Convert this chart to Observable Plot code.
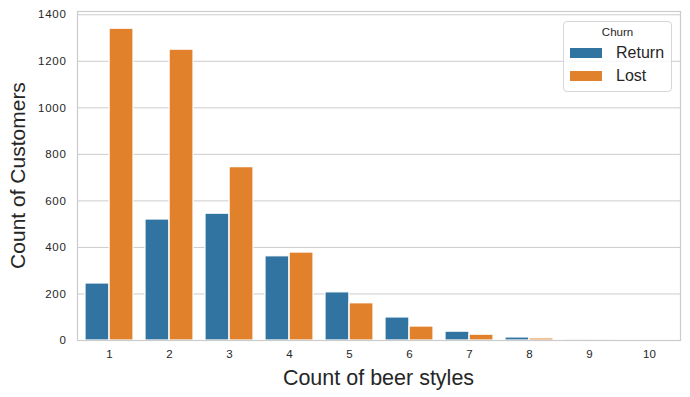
<!DOCTYPE html>
<html>
<head>
<meta charset="utf-8">
<script src="https://cdn.jsdelivr.net/npm/d3@7"></script>
<script src="https://cdn.jsdelivr.net/npm/@observablehq/plot@0.6"></script>
<style>
  body { margin: 0; background: #fff; font-family: "Liberation Sans", Arial, sans-serif; }
  #wrap { position: relative; width: 690px; height: 397px; }
  #legend {
    position: absolute; left: 563px; top: 21px; width: 109px; height: 71px;
    border: 1px solid #d6d6d6; border-radius: 4px; background: rgba(255,255,255,0.8);
    box-sizing: border-box; color: #262626;
  }
  #legend .title { position: absolute; left: 0; width: 100%; top: 4px; text-align: center; font-size: 11.5px; }
  #legend .sw { position: absolute; left: 6px; width: 32px; height: 10px; }
  #legend .lab { position: absolute; left: 52px; font-size: 16px; line-height: 16px; }
</style>
</head>
<body>
<div id="wrap"></div>
<script>
const beerStyles = [1, 2, 3, 4, 5, 6, 7, 8, 9, 10];
const churnGroups = ["Return", "Lost"];
const returnCounts = [245, 520, 545, 362, 207, 99, 38, 13, 1, 0];
const lostCounts = [1340, 1250, 745, 378, 160, 60, 25, 9, 1, 0];
const yTicks = [0, 200, 400, 600, 800, 1000, 1200, 1400];
const colors = ["#3274a1", "#e1812c"];

const returnData = beerStyles.map((s, i) => ({style: s, churn: "Return", count: returnCounts[i]}));
const lostData = beerStyles.map((s, i) => ({style: s, churn: "Lost", count: lostCounts[i]}));

const W = 690, H = 397, mL = 77, mR = 10, mT = 11, mB = 57;
const half = (W - mL - mR) / beerStyles.length * 0.8 / 2;

const chart = Plot.plot({
  width: W, height: H,
  marginLeft: mL, marginRight: mR, marginTop: mT, marginBottom: mB,
  style: {fontSize: "11.5px", fontFamily: "Liberation Sans, Arial, sans-serif", color: "#262626", background: "white"},
  x: {type: "band", domain: beerStyles, paddingInner: 0.2, paddingOuter: 0.1, tickSize: 0, tickPadding: 9, label: null},
  y: {domain: [0, 1414], ticks: yTicks, tickFormat: d => String(d), tickSize: 0, tickPadding: 11, label: null},
  marks: [
    Plot.ruleY(yTicks, {stroke: "#cccccc", strokeWidth: 1}),
    Plot.barY(returnData, {x: "style", y: "count", fill: colors[0], insetRight: half, stroke: "white", strokeWidth: 1.2}),
    Plot.barY(lostData, {x: "style", y: "count", fill: colors[1], insetLeft: half, stroke: "white", strokeWidth: 1.2}),
    Plot.frame({stroke: "#cccccc", strokeWidth: 1.2})
  ]
});

const svg = d3.select(chart);
svg.selectAll('g[aria-label="y-axis tick label"] text, g[aria-label="y-axis"] text').attr("letter-spacing", "0.7px");
svg.append("text")
  .attr("x", (mL + W - mR) / 2).attr("y", 385)
  .attr("text-anchor", "middle").attr("font-size", 21.5).attr("fill", "#262626")
  .text("Count of beer styles");
svg.append("text")
  .attr("transform", `translate(25,${(mT + H - mB) / 2}) rotate(-90)`)
  .attr("text-anchor", "middle").attr("font-size", 21).attr("fill", "#262626")
  .text("Count of Customers");

const wrap = document.getElementById("wrap");
wrap.appendChild(chart);

const legend = document.createElement("div");
legend.id = "legend";
legend.innerHTML = `<div class="title">Churn</div>` +
  churnGroups.map((g, i) =>
    `<div class="sw" style="top:${26 + i * 23}px;background:${colors[i]}"></div>` +
    `<div class="lab" style="top:${23 + i * 23}px">${g}</div>`).join("");
wrap.appendChild(legend);
</script>
</body>
</html>
